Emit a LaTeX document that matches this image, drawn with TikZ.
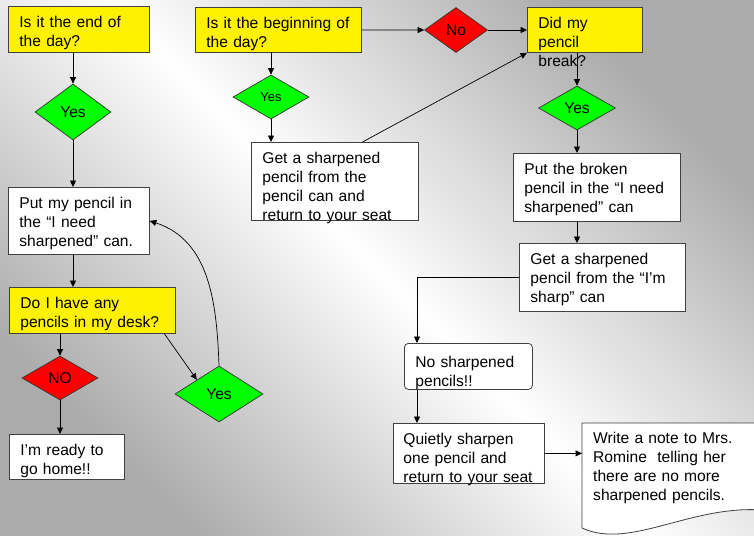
\documentclass[tikz,border=0pt]{standalone}
\usepackage{fontspec}
\setmainfont{Liberation Sans}
\usepackage{tikz}
\usetikzlibrary{arrows.meta}
\usetikzlibrary{shapes.geometric}

\begin{document}
\begin{tikzpicture}[
		x=1pt, y=1pt,
		>={Triangle[length=6.5pt, width=6pt]},
		flow/.style={draw=black, line width=0.7pt},
		stepbox/.style={draw=black!75, line width=0.8pt, fill=white, anchor=north west,
			align=left, inner xsep=11pt, inner ysep=0pt, text height=21pt},
		askbox/.style={stepbox, fill=yellow},
		choice/.style={diamond, draw=black!80, line width=0.7pt, inner sep=0pt,
			minimum width=76pt, minimum height=44pt},
		yesdia/.style={choice, fill=green},
		nodia/.style={choice, fill=red},
	]
	\fontsize{15.6}{19}\selectfont
	\shade[top color=gray!66, bottom color=gray!66, middle color=white, shading angle=-45]
		(0,0) rectangle (754,-535);
	\useasboundingbox (0,0) rectangle (754,-535);

	% left column
	\node[askbox, text width=119pt, text depth=25pt] (endday) at (8,-6) {Is it the end of\\the day?};
	\node[yesdia, minimum height=56pt] (yesend) at (73,-112) {Yes};
	\node[stepbox, text width=119pt, text depth=46pt] (putmine) at (8,-187) {Put my pencil in\\the “I need\\sharpened” can.};
	\node[askbox, text width=144pt, text depth=25pt] (desk) at (9,-287) {Do I have any\\pencils in my desk?};
	\node[nodia] (nohome) at (60,-378) {NO};
	\node[stepbox, text width=93pt, text depth=24pt] (home) at (9,-434) {I’m ready to\\go home!!};
	\node[yesdia, minimum width=88pt, minimum height=56pt] (yesdesk) at (219,-394) {Yes};

	\draw[flow, ->] (yesend.north |- endday.south) -- (yesend.north);
	\draw[flow, ->] (yesend.south) -- (yesend.south |- putmine.north);
	\draw[flow, ->] (yesend.south |- putmine.south) -- (yesend.south |- desk.north);
	\draw[flow, ->] (nohome.north |- desk.south) -- (nohome.north);
	\draw[flow, ->] (nohome.south) -- (nohome.south |- home.north);
	\draw[flow, ->] (desk.-18) -- (yesdesk.north west);
	\draw[flow, ->] (yesdesk.north) to[out=92, in=-18] (putmine.east);

	% middle column
	\node[askbox, text width=144pt, text depth=24pt] (beginday) at (195,-7) {Is it the beginning of\\the day?};
	\node[nodia, minimum width=63pt, minimum height=45pt] (nobegin) at (456,-30) {No};
	\node[yesdia, font=\fontsize{13}{15}\selectfont] (yesbegin) at (271,-97) {Yes};
	\node[stepbox, text width=145pt, text depth=57pt] (getcan) at (251,-142) {Get a sharpened\\pencil from the\\pencil can and\\return to your seat};

	% right column
	\node[askbox, text width=93pt, text depth=24pt] (broke) at (527,-7) {Did my\\pencil\\break?};
	\node[yesdia, minimum width=77pt] (yesbreak) at (577,-108) {Yes};
	\node[stepbox, text width=145pt, text depth=47pt] (putbroken) at (513,-153) {Put the broken\\pencil in the “I need\\sharpened” can};
	\node[stepbox, text width=144pt, text depth=47pt] (getsharp) at (519,-243) {Get a sharpened\\pencil from the “I’m\\sharp” can};
	\node[stepbox, rounded corners=4pt, text width=106pt, text height=24pt, text depth=22pt] (none) at (404,-343) {No sharpened\\pencils!!};
	\node[stepbox, inner xsep=10pt, text width=131pt, text depth=39pt] (quiet) at (393,-423) {Quietly sharpen\\one pencil and\\return to your seat};
	\draw[draw=black!75, line width=0.8pt, fill=white] (582,-423) -- (762,-423) -- (762,-510)
		.. controls (690,-505) and (630,-550) .. (582,-528) -- cycle;
	\node[anchor=north west, align=left, inner xsep=11pt, inner ysep=0pt, text height=20pt,
		text width=158pt] (note) at (582,-423) {Write a note to Mrs.\\Romine\ \ telling her\\there are no more\\sharpened pencils.};
	\coordinate (chute) at ([xshift=13pt]none.north west);

	\draw[flow, ->] (beginday.east) -- (nobegin.west);
	\draw[flow, ->] (nobegin.east) -- (nobegin.east -| broke.west);
	\draw[flow, ->] (yesbegin.north |- beginday.south) -- (yesbegin.north);
	\draw[flow, ->] (yesbegin.south) -- (yesbegin.south |- getcan.north);
	\draw[flow, ->] (getcan.55) -- (broke.south west);
	\draw[flow, ->] (yesbreak.north |- broke.south) -- (yesbreak.north);
	\draw[flow, ->] (yesbreak.south) -- (yesbreak.south |- putbroken.north);
	\draw[flow, ->] (yesbreak.south |- putbroken.south) -- (yesbreak.south |- getsharp.north);
	\draw[flow, ->] (getsharp.west) -| (chute);
	\draw[flow, ->] (chute |- none.south) -- (chute |- quiet.north);
	\draw[flow, ->] (quiet.east) -- (quiet.east -| note.west);
\end{tikzpicture}
\end{document}
